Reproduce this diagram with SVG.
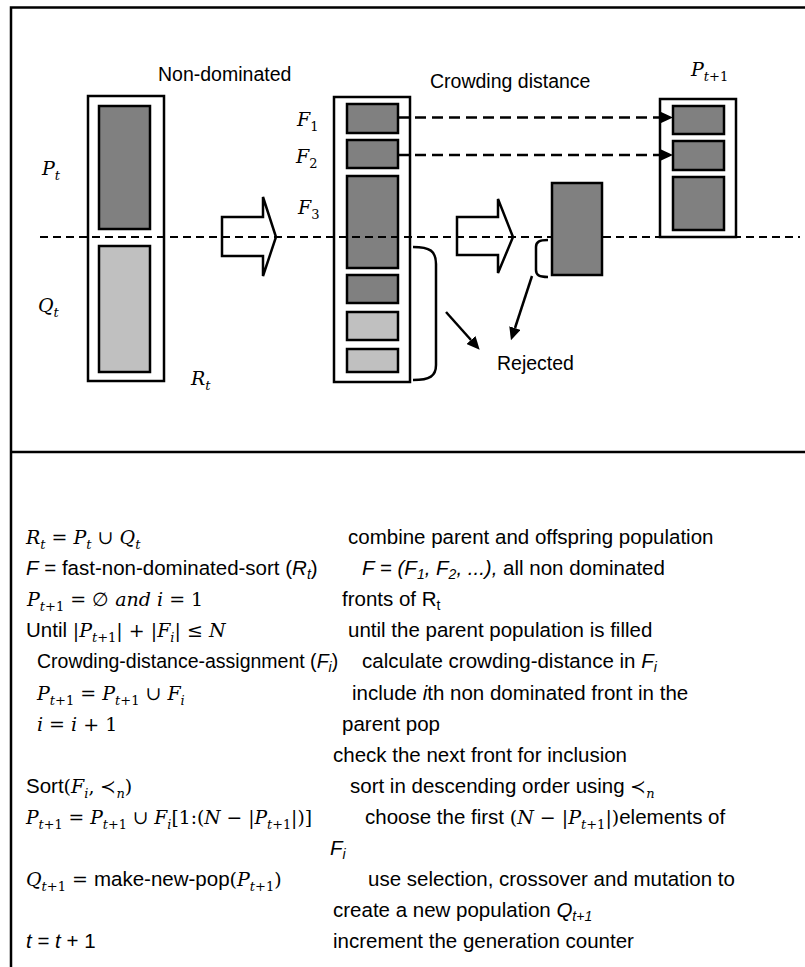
<svg xmlns="http://www.w3.org/2000/svg" width="805" height="967" viewBox="0 0 805 967">
<style>
.frame{stroke:#000;stroke-width:2.5;fill:none}
.box{fill:#fff;stroke:#000;stroke-width:2.5}
.dk{fill:#808080;stroke:#000;stroke-width:2.5}
.lt{fill:#c0c0c0;stroke:#000;stroke-width:2.5}
.mid{stroke:#000;stroke-width:2;stroke-dasharray:8 5;fill:none}
.dash{stroke:#000;stroke-width:2.5;stroke-dasharray:11 6;fill:none}
.sol{stroke:#000;stroke-width:2.5;fill:none}
.brk{stroke:#000;stroke-width:2.5;fill:none}
.harrow{fill:#fff;stroke:#000;stroke-width:2.5}
.lbl{font-family:"Liberation Sans",Arial,sans-serif;font-size:19.5px;fill:#000}
.s{font-family:"Liberation Sans",Arial,sans-serif;font-size:20.5px;fill:#000}
.s2{font-family:"Liberation Sans",Arial,sans-serif;font-size:19.5px;fill:#000}
.m{font-family:"DejaVu Serif","Liberation Serif",serif;font-size:19px;fill:#000}
.mt{font-family:"DejaVu Serif","Liberation Serif",serif;font-size:19px;font-style:italic;fill:#000}
.i{font-style:italic}
.n{font-style:normal}
.sub{font-size:13px}
.ssub{font-size:14px}
.ff{font-family:"Liberation Sans",Arial,sans-serif;font-size:20.5px}
</style>
<defs>
<marker id="ah" viewBox="0 0 13 12" refX="0" refY="6" markerWidth="13" markerHeight="12" markerUnits="userSpaceOnUse" orient="auto">
<path d="M0,0 L13,6 L0,12 z" fill="#000"/>
</marker>
</defs>
<rect width="805" height="967" fill="#fff"/>
<g id="frame">
<path class="frame" d="M11,967 L11,7.5 L805,7.5"/>
<path class="frame" d="M11,452 L805,452"/>
</g>
<g id="node-Rt">
<rect class="box" x="88" y="96" width="76" height="285"/>
<rect class="dk" x="99" y="106" width="51" height="123"/>
<rect class="lt" x="99" y="246" width="51" height="126"/>
<text class="mt" x="42" y="175">P<tspan class="sub" dy="5">t</tspan></text>
<text class="mt" x="38" y="312">Q<tspan class="sub" dy="5">t</tspan></text>
<text class="mt" x="191" y="385">R<tspan class="sub" dy="5">t</tspan></text>
</g>
<g id="node-fronts">
<rect class="box" x="334" y="97" width="76" height="285"/>
<rect class="dk" x="347" y="104" width="51" height="29"/>
<rect class="dk" x="347" y="140" width="51" height="28"/>
<rect class="dk" x="347" y="176" width="51" height="92"/>
<rect class="dk" x="347" y="275" width="51" height="28"/>
<rect class="lt" x="347" y="312" width="51" height="28"/>
<rect class="lt" x="347" y="349" width="51" height="23"/>
<text class="mt" x="297" y="126">F<tspan class="sub n" dy="5">1</tspan></text>
<text class="mt" x="296" y="163">F<tspan class="sub n" dy="5">2</tspan></text>
<text class="mt" x="298" y="214">F<tspan class="sub n" dy="5">3</tspan></text>
<path class="brk" d="M413,247 C430,247 436,251 436,264 L436,365 C436,376 430,380 413,380"/>
</g>
<g id="node-selected">
<rect class="dk" x="552" y="183" width="50" height="92"/>
<path class="brk" d="M548,240 C539,240 536,242 536,247 L536,270 C536,275 539,277 548,277"/>
</g>
<g id="node-Pt1">
<rect class="box" x="660" y="99" width="76" height="138"/>
<rect class="dk" x="673" y="106" width="51" height="28"/>
<rect class="dk" x="673" y="141" width="51" height="29"/>
<rect class="dk" x="673" y="177" width="51" height="53"/>
<text class="mt" x="691" y="76">P<tspan class="sub" dy="5">t</tspan><tspan class="sub n">+1</tspan></text>
</g>
<g id="titles">
<text class="lbl" x="158" y="81">Non-dominated</text>
<text class="lbl" x="430" y="88">Crowding distance</text>
<text class="lbl" x="497" y="370">Rejected</text>
</g>
<g id="connectors">
<polygon class="harrow" points="222,217 263,217 263,197 276,237 263,276 263,256 222,256"/>
<polygon class="harrow" points="457,217 498,217 498,199 513,237 498,273 498,255 457,255"/>
<line class="dash" x1="398" y1="117.5" x2="660" y2="117.5" marker-end="url(#ah)"/>
<line class="dash" x1="398" y1="155" x2="660" y2="155" marker-end="url(#ah)"/>
<line class="sol" x1="446" y1="312" x2="471" y2="340" marker-end="url(#ah)"/>
<line class="sol" x1="532" y1="276" x2="515" y2="328" marker-end="url(#ah)"/>
<line class="mid" x1="40" y1="237" x2="551" y2="237"/>
<line class="mid" x1="603" y1="237" x2="800" y2="237"/>
</g>
<g id="algorithm">
<text class="m" x="26" y="544"><tspan class="i">R</tspan><tspan class="sub i" dy="5">t</tspan><tspan dy="-5"> = </tspan><tspan class="i">P</tspan><tspan class="sub i" dy="5">t</tspan><tspan dy="-5"> ∪ </tspan><tspan class="i">Q</tspan><tspan class="sub i" dy="5">t</tspan></text>
<text class="s" x="26" y="575"><tspan class="i">F</tspan> = fast-non-dominated-sort (<tspan class="i">R</tspan><tspan class="ssub i" dy="4">t</tspan><tspan dy="-4">)</tspan></text>
<text class="m" x="27" y="606"><tspan class="i">P</tspan><tspan class="sub i" dy="5">t</tspan><tspan class="sub">+1</tspan><tspan dy="-5"> = ∅ </tspan><tspan class="i">and i</tspan><tspan> = 1</tspan></text>
<text class="s" x="26" y="637">Until <tspan class="m">|</tspan><tspan class="m i">P</tspan><tspan class="m sub i" dy="5">t</tspan><tspan class="m sub">+1</tspan><tspan class="m" dy="-5">| + |</tspan><tspan class="m i">F</tspan><tspan class="m sub i" dy="5">i</tspan><tspan class="m" dy="-5">| ≤ </tspan><tspan class="m i">N</tspan></text>
<text class="s2" x="37" y="668">Crowding-distance-assignment (<tspan class="i">F</tspan><tspan class="ssub i" dy="4">i</tspan><tspan dy="-4">)</tspan></text>
<text class="m" x="37" y="700"><tspan class="i">P</tspan><tspan class="sub i" dy="5">t</tspan><tspan class="sub">+1</tspan><tspan dy="-5"> = </tspan><tspan class="i">P</tspan><tspan class="sub i" dy="5">t</tspan><tspan class="sub">+1</tspan><tspan dy="-5"> ∪ </tspan><tspan class="i">F</tspan><tspan class="sub i" dy="5">i</tspan></text>
<text class="m" x="37" y="731"><tspan class="i">i</tspan> = <tspan class="i">i</tspan> + 1</text>
<text class="s" x="26" y="793">Sort<tspan class="m">(</tspan><tspan class="m i">F</tspan><tspan class="m sub i" dy="5">i</tspan><tspan class="m" dy="-5">, ≺</tspan><tspan class="m sub i" dy="5">n</tspan><tspan class="m" dy="-5">)</tspan></text>
<text class="m" x="26" y="824" textLength="286" lengthAdjust="spacingAndGlyphs"><tspan class="i">P</tspan><tspan class="sub i" dy="5">t</tspan><tspan class="sub">+1</tspan><tspan dy="-5"> = </tspan><tspan class="i">P</tspan><tspan class="sub i" dy="5">t</tspan><tspan class="sub">+1</tspan><tspan dy="-5"> ∪ </tspan><tspan class="i">F</tspan><tspan class="sub i" dy="5">i</tspan><tspan dy="-5">[1:(</tspan><tspan class="i">N</tspan><tspan> − |</tspan><tspan class="i">P</tspan><tspan class="sub i" dy="5">t</tspan><tspan class="sub">+1</tspan><tspan dy="-5">|)]</tspan></text>
<text class="m" x="26" y="886"><tspan class="i">Q</tspan><tspan class="sub i" dy="5">t</tspan><tspan class="sub">+1</tspan><tspan dy="-5"> = </tspan><tspan class="ff">make-new-pop</tspan><tspan>(</tspan><tspan class="i">P</tspan><tspan class="sub i" dy="5">t</tspan><tspan class="sub">+1</tspan><tspan dy="-5">)</tspan></text>
<text class="s" x="26" y="948"><tspan class="i">t</tspan> = <tspan class="i">t</tspan> + 1</text>

<text class="s" x="348" y="544">combine parent and offspring population</text>
<text class="s" x="362" y="575"><tspan class="i">F = (F</tspan><tspan class="ssub i" dy="4">1</tspan><tspan class="i" dy="-4">, F</tspan><tspan class="ssub i" dy="4">2</tspan><tspan class="i" dy="-4">, ...),</tspan> all non dominated</text>
<text class="s" x="342" y="606">fronts of R<tspan class="ssub" dy="4">t</tspan></text>
<text class="s" x="348" y="637">until the parent population is filled</text>
<text class="s" x="362" y="668">calculate crowding-distance in <tspan class="i">F</tspan><tspan class="ssub i" dy="4">i</tspan></text>
<text class="s" x="352" y="700">include <tspan class="i">i</tspan>th non dominated front in the</text>
<text class="s" x="342" y="731">parent pop</text>
<text class="s" x="333" y="762">check the next front for inclusion</text>
<text class="s" x="350" y="793">sort in descending order using <tspan class="m">≺</tspan><tspan class="m sub i" dy="5">n</tspan></text>
<text class="s" x="365" y="824">choose the first <tspan class="m">(</tspan><tspan class="m i">N</tspan><tspan class="m"> − |</tspan><tspan class="m i">P</tspan><tspan class="m sub i" dy="5">t</tspan><tspan class="m sub">+1</tspan><tspan class="m" dy="-5">|)</tspan>elements of</text>
<text class="s" x="330" y="855"><tspan class="i">F</tspan><tspan class="ssub i" dy="4">i</tspan></text>
<text class="s" x="368" y="886">use selection, crossover and mutation to</text>
<text class="s" x="333" y="917">create a new population <tspan class="i">Q</tspan><tspan class="ssub i" dy="4">t+1</tspan></text>
<text class="s" x="333" y="948">increment the generation counter</text>
</g>
</svg>
